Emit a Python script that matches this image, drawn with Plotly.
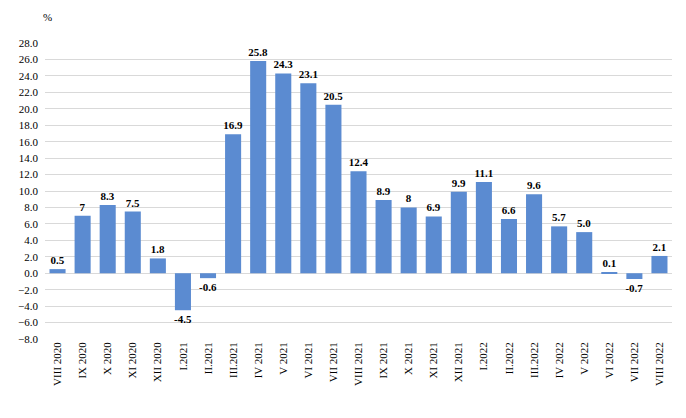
import plotly.graph_objects as go

categories = ["VIII 2020", "IX 2020", "X 2020", "XI 2020", "XII 2020", "I.2021", "II.2021",
              "III.2021", "IV 2021", "V 2021", "VI 2021", "VII 2021", "VIII 2021", "IX 2021",
              "X 2021", "XI 2021", "XII 2021", "I.2022", "II.2022", "III.2022", "IV 2022",
              "V 2022", "VI 2022", "VII 2022", "VIII 2022"]
values = [0.5, 7, 8.3, 7.5, 1.8, -4.5, -0.6, 16.9, 25.8, 24.3, 23.1, 20.5, 12.4, 8.9,
          8, 6.9, 9.9, 11.1, 6.6, 9.6, 5.7, 5.0, 0.1, -0.7, 2.1]
labels = ["0.5", "7", "8.3", "7.5", "1.8", "-4.5", "-0.6", "16.9", "25.8", "24.3", "23.1",
          "20.5", "12.4", "8.9", "8", "6.9", "9.9", "11.1", "6.6", "9.6", "5.7", "5.0",
          "0.1", "-0.7", "2.1"]
y_ticks = [-8, -6, -4, -2, 0, 2, 4, 6, 8, 10, 12, 14, 16, 18, 20, 22, 24, 26, 28]

serif = "Liberation Serif"

W, H = 678, 410
ML, MR, MT, MB = 37, 14, 35, 79

fig = go.Figure(go.Bar(
    x=categories, y=values, text=["<b>%s</b>" % t for t in labels], textposition="outside",
    textfont=dict(family=serif, size=11, color="#000000"),
    constraintext="none",
    marker=dict(color="#5b8bd1", line=dict(width=0)),
    cliponaxis=False,
))

fig.update_layout(
    width=W, height=H,
    margin=dict(l=ML, r=MR, t=MT, b=MB, autoexpand=False),
    paper_bgcolor="white", plot_bgcolor="white",
    bargap=0.36,
    showlegend=False,
    font=dict(family=serif, size=11, color="#000000"),
    annotations=[dict(text="%", xref="paper", yref="paper",
                      x=(39 - ML) / (W - ML - MR), y=(H - MB - 9) / (H - MT - MB),
                      xanchor="center", yanchor="middle", showarrow=False,
                      font=dict(family=serif, size=11))],
)

fig.update_xaxes(tickangle=-90, tickfont=dict(family=serif, size=11), showgrid=False,
                 showline=False, ticks="", automargin=False)
fig.update_yaxes(range=[-8, 28], tickvals=y_ticks, tickformat=".1f",
                 showgrid=True, gridcolor="#d9d9d9", gridwidth=1,
                 zeroline=True, zerolinecolor="#d9d9d9", zerolinewidth=1,
                 tickfont=dict(family=serif, size=11), ticks="", ticklabelstandoff=6,
                 automargin=False)

fig.write_html("out.html")
